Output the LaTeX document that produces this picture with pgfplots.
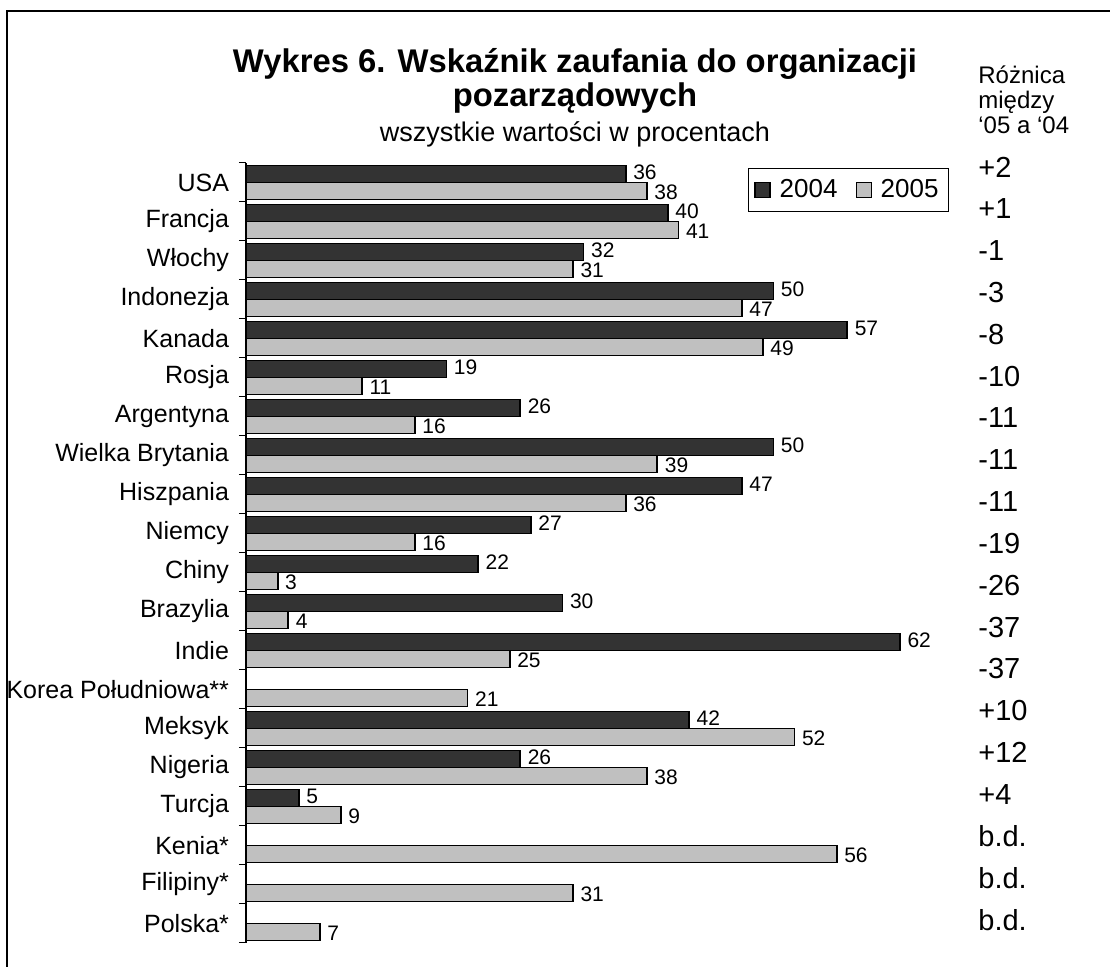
\documentclass[border=0pt]{standalone}
\usepackage{pgfplots}
\pgfplotsset{compat=1.18}
\usepackage{fontspec}
\setmainfont{Liberation Sans}
\definecolor{dark}{HTML}{333333}
\definecolor{light}{HTML}{C0C0C0}
\begin{document}
\begin{tikzpicture}
\path[use as bounding box] (0pt,0pt) rectangle (555pt,-483.5pt);
\draw[line width=0.75pt] (3.5pt,-483.5pt) -- (3.5pt,-5.5pt) -- (555pt,-5.5pt);
\node[font=\bfseries\fontsize{16.4}{19}\selectfont, anchor=base] at (287.5pt,-36.5pt) {Wykres 6. Wskaźnik zaufania do organizacji};
\node[font=\bfseries\fontsize{16.4}{19}\selectfont, anchor=base] at (287.5pt,-53.5pt) {pozarządowych};
\node[font=\fontsize{13.5}{15}\selectfont, anchor=base] at (287.5pt,-71pt) {wszystkie wartości w procentach};
\node[font=\fontsize{12}{14}\selectfont, anchor=base west, inner sep=0pt] at (489pt,-42pt) {Różnica};
\node[font=\fontsize{12}{14}\selectfont, anchor=base west, inner sep=0pt] at (489pt,-54.5pt) {między};
\node[font=\fontsize{12}{14}\selectfont, anchor=base west, inner sep=0pt] at (489pt,-67pt) {‘05 a ‘04};
\foreach \v [count=\i from 0] in {+2,+1,-1,-3,-8,-10,-11,-11,-11,-19,-26,-37,-37,+10,+12,+4,b.d.,b.d.,b.d.}{
  \node[font=\fontsize{14.5}{17}\selectfont, anchor=west, inner sep=0pt] at (489pt,{-(83.5+20.915*\i)*1pt}) {\v};
}
\begin{axis}[
  at={(123pt,-471.5pt)}, anchor=south west,
  scale only axis, width=327pt, height=390pt,
  xmin=0, xmax=62, ymin=-0.5, ymax=19.5,
  enlargelimits=false, clip=false,
  axis x line=none, axis y line*=left,
  axis line style={line width=0.75pt, -},
  xbar, bar width=8.5pt,
  ytick={0,...,19},
  yticklabels={Polska*, Filipiny*, Kenia*, Turcja, Nigeria, Meksyk, Korea Południowa**, Indie, Brazylia, Chiny, Niemcy, Hiszpania, Wielka Brytania, Argentyna, Rosja, Kanada, Indonezja, Włochy, Francja, USA},
  major tick length=0pt,
  minor ytick={-0.5,0.5,...,19.5},
  minor tick length=3.5pt,
  tick align=outside,
  tick style={black, line width=0.5pt},
  yticklabel style={font=\fontsize{12.5}{14}\selectfont, xshift=-5pt},
  nodes near coords,
  nodes near coords style={font=\fontsize{10.5}{12}\selectfont, black, inner ysep=1pt},
  /pgf/number format/assume math mode=true,
  legend style={at={(0.7676,0.9936)}, anchor=north west, legend columns=-1, draw=black, line width=0.5pt, font=\fontsize{13}{15}\selectfont, inner xsep=3pt, inner ysep=3.5pt, /tikz/every even column/.append style={column sep=7pt}, /tikz/every odd column/.append style={column sep=2.5pt}},
  legend image code/.code={\draw[#1, line width=0.6pt] (0pt,-3.75pt) rectangle (7.5pt,3.75pt);},
]
\addplot[fill=dark, draw=black, line width=0.9pt, bar shift=4.25pt, nodes near coords style={yshift=1pt}] coordinates {(36,19) (40,18) (32,17) (50,16) (57,15) (19,14) (26,13) (50,12) (47,11) (27,10) (22,9) (30,8) (62,7) (42,5) (26,4) (5,3)};
\addplot[fill=light, draw=black, line width=0.9pt, bar shift=-4.25pt, nodes near coords style={yshift=-0.5pt}] coordinates {(38,19) (41,18) (31,17) (47,16) (49,15) (11,14) (16,13) (39,12) (36,11) (16,10) (3,9) (4,8) (25,7) (21,6) (52,5) (38,4) (9,3) (56,2) (31,1) (7,0)};
\legend{2004,2005}
\end{axis}
\end{tikzpicture}
\end{document}
